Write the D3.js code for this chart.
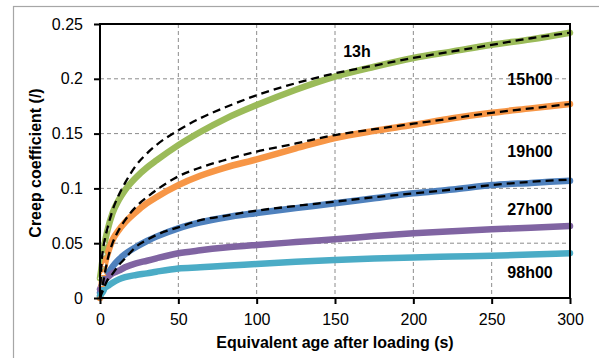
<!DOCTYPE html>
<html><head><meta charset="utf-8">
<script src="https://cdn.jsdelivr.net/npm/d3@7"></script>
<style>
html,body{margin:0;padding:0;background:#fff;}
svg{display:block;}
svg text{fill:#000;}
</style></head>
<body><svg id="c" width="599" height="358"></svg>
<script>
// Time after loading (s)
const times = [0,1,2,3,5,8,12,16,23,30,36,50,64,80,100,125,150,175,200,225,250,275,300];
// Measured creep coefficient
const s13h   = [0.018,0.028,0.040,0.050,0.063,0.0775,0.0895,0.0985,0.110,0.119,0.1255,0.1395,0.1515,0.1635,0.176,0.190,0.202,0.211,0.219,0.225,0.231,0.236,0.242];
const s15h   = [0.000,0.012,0.022,0.030,0.041,0.053,0.062,0.069,0.0785,0.0865,0.092,0.103,0.1115,0.119,0.1265,0.1365,0.146,0.1525,0.158,0.164,0.169,0.173,0.177];
const s19h   = [0.005,0.009,0.013,0.017,0.022,0.0286,0.035,0.040,0.0465,0.052,0.056,0.0636,0.069,0.0735,0.0775,0.082,0.0864,0.091,0.0955,0.099,0.103,0.105,0.107];
const s27h   = [0.008,0.011,0.013,0.016,0.019,0.0225,0.025,0.028,0.0316,0.034,0.0362,0.0408,0.0435,0.046,0.0484,0.051,0.0535,0.0565,0.059,0.061,0.0627,0.064,0.0657];
const s98h   = [0.002,0.004,0.006,0.009,0.011,0.014,0.017,0.019,0.021,0.0225,0.024,0.027,0.028,0.0295,0.031,0.033,0.0347,0.036,0.037,0.0378,0.0385,0.0397,0.0408];
// Model fits (dashed)
const fit13h = [0.000,0.032,0.045,0.053,0.065,0.080,0.094,0.105,0.121,0.132,0.1396,0.153,0.164,0.174,0.185,0.196,0.205,0.212,0.219,0.225,0.231,0.237,0.242];
const fit15h = [0.000,0.006,0.014,0.022,0.036,0.050,0.062,0.071,0.0833,0.092,0.0985,0.111,0.119,0.126,0.1335,0.141,0.1487,0.154,0.159,0.164,0.169,0.173,0.177];
const fit19h = [0.000,0.004,0.007,0.011,0.017,0.022,0.030,0.036,0.0468,0.053,0.0575,0.0645,0.071,0.075,0.0797,0.084,0.0879,0.092,0.0955,0.099,0.103,0.106,0.108];

const seriesNames  = ["13h","15h00","19h00","27h00","98h00"];
const seriesValues = [s13h,s15h,s19h,s27h,s98h];
const seriesColors = ["#9BBB59","#F79646","#4F81BD","#8064A2","#4BACC6"];
const fitValues = [fit13h,fit15h,fit19h];
// label anchor in data units [x, y]
const labelPos = [[164,0.22],[274.5,0.1943],[274.5,0.1286],[274.5,0.0757],[274.5,0.018]];

const xTicks = [0,50,100,150,200,250,300];
const yTicks = [0,0.05,0.1,0.15,0.2,0.25];

const FONT = "'Liberation Sans',Arial,sans-serif";
const svg = d3.select("#c");
const L=100,R=570,T=24,B=298;
const x = d3.scaleLinear().domain([0,300]).range([L,R]);
const y = d3.scaleLinear().domain([0,0.25]).range([B,T]);

// outer chart border
svg.append("rect").attr("x",13.5).attr("y",6.5).attr("width",620).attr("height",400)
  .attr("fill","none").attr("stroke","#a6a6a6").attr("stroke-width",1.2);

// grid
const grid = svg.append("g");
grid.selectAll(".gx").data(xTicks.slice(1,-1)).enter().append("line")
  .attr("x1",d=>x(d)).attr("x2",d=>x(d)).attr("y1",T).attr("y2",B)
  .attr("stroke","#8c8c8c").attr("stroke-width",1).attr("stroke-dasharray","4,3");
grid.selectAll(".gy").data(yTicks.slice(1,-1)).enter().append("line")
  .attr("y1",d=>y(d)).attr("y2",d=>y(d)).attr("x1",L).attr("x2",R)
  .attr("stroke","#8c8c8c").attr("stroke-width",1).attr("stroke-dasharray","4,3");

// series
const line = d3.line().x((d,i)=>x(times[i])).y(d=>y(d)).curve(d3.curveMonotoneX);
const gs = svg.append("g");
seriesValues.forEach((vals,k)=>{
  gs.append("path").datum(vals).attr("d",line).attr("fill","none")
    .attr("stroke",seriesColors[k]).attr("stroke-width",6.5).attr("stroke-linecap","round").attr("stroke-linejoin","round");
});
// start markers
gs.selectAll(".mc").data(s13h.slice(0,5)).enter().append("circle")
  .attr("cx",(d,i)=>x(times[i])).attr("cy",d=>y(d)).attr("r",2.2)
  .attr("fill","#fff").attr("stroke","#9BBB59").attr("stroke-width",1);
gs.selectAll(".mt").data(s15h.slice(0,4)).enter().append("path")
  .attr("d",d3.symbol(d3.symbolTriangle,14))
  .attr("transform",(d,i)=>`translate(${x(times[i])},${y(d)})`)
  .attr("fill","#fff").attr("stroke","#F79646").attr("stroke-width",1);
// fits
fitValues.forEach(vals=>{
  gs.append("path").datum(vals).attr("d",line).attr("fill","none")
    .attr("stroke","#000").attr("stroke-width",2.3).attr("stroke-dasharray","8,5");
});

// frame
svg.append("rect").attr("x",L).attr("y",T).attr("width",R-L).attr("height",B-T)
  .attr("fill","none").attr("stroke","#000").attr("stroke-width",2);

// axes
const xa = svg.append("g").attr("transform",`translate(0,${B})`)
  .call(d3.axisBottom(x).tickValues(xTicks).tickSize(6).tickPadding(10).tickFormat(d3.format("d")));
const ya = svg.append("g").attr("transform",`translate(${L},0)`)
  .call(d3.axisLeft(y).tickValues(yTicks).tickSize(6).tickPadding(11).tickFormat(d=>d===0?"0":String(+d.toFixed(2))));
[xa,ya].forEach(a=>{
  a.attr("font-family",FONT).attr("font-size",16);
  a.select(".domain").remove();
  a.selectAll("line").attr("stroke","#000").attr("stroke-width",2);
  a.selectAll("text").attr("fill","#000");
});

// series labels
seriesNames.forEach((n,k)=>{
  svg.append("text").attr("x",x(labelPos[k][0])).attr("y",y(labelPos[k][1]))
    .attr("text-anchor","middle").attr("font-family",FONT).attr("font-weight","bold").attr("font-size",16).text(n);
});

// axis titles
svg.append("text").attr("x",335).attr("y",348).attr("text-anchor","middle").attr("font-family",FONT)
  .attr("font-weight","bold").attr("font-size",16).text("Equivalent age after loading (s)");
svg.append("text").attr("transform","translate(41,163) rotate(-90)").attr("text-anchor","middle").attr("font-family",FONT)
  .attr("font-weight","bold").attr("font-size",16).text("Creep coefficient (/)");
</script></body></html>
